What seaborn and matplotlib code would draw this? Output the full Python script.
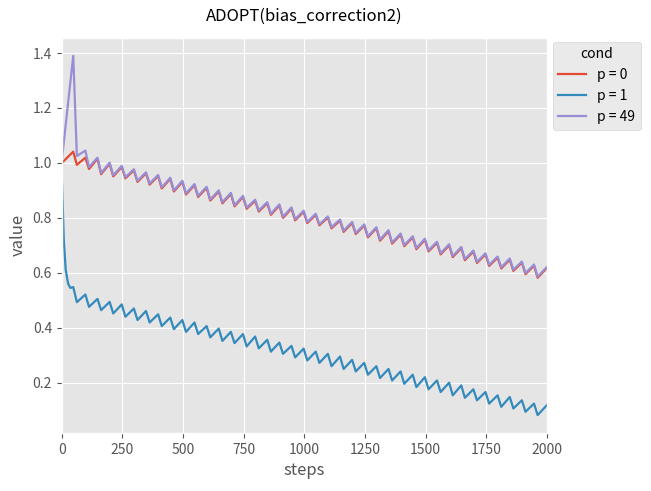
import matplotlib
matplotlib.use("Agg")
import matplotlib.pyplot as plt
import seaborn as sns
import pandas as pd

plt.style.use("ggplot")
plt.rcParams['font.family'] = ['Noto Sans CJK JP', 'DejaVu Sans']

title = "ADOPT(bias_correction2)"
labels = ["p = 0", "p = 1", "p = 49"]

steps_upper = [0, 47, 62, 97, 112,
               147, 162, 197, 212, 247, 262, 297, 312, 347, 362, 397, 412,
               447, 462, 497, 512, 547, 562, 597, 612, 647, 662, 697, 712,
               747, 762, 797, 812, 847, 862, 897, 912, 947, 962, 997, 1012,
               1047, 1062, 1097, 1112, 1147, 1162, 1197, 1212, 1247, 1262,
               1297, 1312, 1347, 1362, 1397, 1412, 1447, 1462, 1497, 1512,
               1547, 1562, 1597, 1612, 1647, 1662, 1697, 1712, 1747, 1762,
               1797, 1812, 1847, 1862, 1897, 1912, 1947, 1962, 2000]

p49_values = [1.01, 1.39, 1.025, 1.045, 0.985,
              1.019, 0.963, 1.001, 0.955, 0.989, 0.948, 0.977, 0.935, 0.966, 0.925, 0.956, 0.911,
              0.946, 0.900, 0.935, 0.889, 0.923, 0.880, 0.913, 0.867, 0.900, 0.857, 0.891, 0.846,
              0.880, 0.837, 0.866, 0.827, 0.857, 0.815, 0.849, 0.804, 0.838, 0.795, 0.826, 0.785,
              0.815, 0.777, 0.805, 0.766, 0.794, 0.753, 0.785, 0.745, 0.776, 0.733,
              0.766, 0.721, 0.755, 0.710, 0.743, 0.701, 0.733, 0.690, 0.724, 0.682,
              0.713, 0.671, 0.704, 0.661, 0.694, 0.650, 0.681, 0.640, 0.671, 0.629,
              0.659, 0.620, 0.652, 0.611, 0.641, 0.599, 0.630, 0.586, 0.621]

p0_values = [1.0, 1.041, 0.993, 1.019, 0.978,
             1.015, 0.959, 0.997, 0.951, 0.985, 0.944, 0.973, 0.931, 0.962, 0.921, 0.952, 0.907,
             0.942, 0.896, 0.931, 0.885, 0.919, 0.876, 0.909, 0.863, 0.896, 0.853, 0.887, 0.842,
             0.876, 0.833, 0.862, 0.823, 0.853, 0.811, 0.845, 0.800, 0.834, 0.791, 0.822, 0.781,
             0.811, 0.773, 0.801, 0.762, 0.790, 0.749, 0.781, 0.741, 0.772, 0.729,
             0.762, 0.717, 0.751, 0.706, 0.739, 0.697, 0.729, 0.686, 0.720, 0.678,
             0.709, 0.667, 0.700, 0.657, 0.690, 0.646, 0.677, 0.636, 0.667, 0.625,
             0.655, 0.616, 0.648, 0.607, 0.637, 0.595, 0.626, 0.582, 0.617]

steps_p1 = [0, 8, 16, 26, 35, 47, 62,
            97, 112, 147, 162, 197, 212, 247, 262, 297, 312, 347, 362, 397, 412,
            447, 462, 497, 512, 547, 562, 597, 612, 647, 662, 697, 712,
            747, 762, 797, 812, 847, 862, 897, 912, 947, 962, 997, 1012,
            1047, 1062, 1097, 1112, 1147, 1162, 1197, 1212, 1247, 1262,
            1297, 1312, 1347, 1362, 1397, 1412, 1447, 1462, 1497, 1512,
            1547, 1562, 1597, 1612, 1647, 1662, 1697, 1712, 1747, 1762,
            1797, 1812, 1847, 1862, 1897, 1912, 1947, 1962, 2000]

p1_values = [0.95, 0.72, 0.61, 0.56, 0.545, 0.548, 0.493,
             0.521, 0.476, 0.505, 0.464, 0.494, 0.452, 0.485, 0.440, 0.470, 0.428, 0.461, 0.419, 0.449, 0.406,
             0.437, 0.395, 0.428, 0.385, 0.419, 0.377, 0.406, 0.365, 0.397, 0.352, 0.385, 0.344,
             0.377, 0.332, 0.368, 0.325, 0.356, 0.313, 0.346, 0.305, 0.334, 0.292, 0.324, 0.281,
             0.313, 0.272, 0.305, 0.260, 0.295, 0.250, 0.283, 0.241, 0.272, 0.229,
             0.260, 0.217, 0.250, 0.208, 0.241, 0.196, 0.229, 0.184, 0.220, 0.176,
             0.208, 0.166, 0.200, 0.154, 0.190, 0.145, 0.176, 0.136, 0.166, 0.124,
             0.154, 0.112, 0.148, 0.106, 0.136, 0.094, 0.124, 0.082, 0.118]

df = pd.concat([
    pd.DataFrame({"steps": steps_upper, "value": p0_values, "cond": labels[0]}),
    pd.DataFrame({"steps": steps_p1, "value": p1_values, "cond": labels[1]}),
    pd.DataFrame({"steps": steps_upper, "value": p49_values, "cond": labels[2]}),
], ignore_index=True)

colors = ["#E24A33", "#348ABD", "#988ED5"]

fig, ax = plt.subplots(figsize=(6.51, 4.91), dpi=100)
fig.subplots_adjust(left=0.095, right=0.840, top=0.923, bottom=0.118)
sns.lineplot(data=df, x="steps", y="value", hue="cond", palette=colors,
             linewidth=1.6, ax=ax, sort=False, estimator=None)
ax.set_xlim(0, 2000)
ax.set_title(title, fontsize=12, color="black", pad=12)
ax.set_xlabel("steps", fontsize=12)
ax.set_ylabel("value", fontsize=12)
ax.tick_params(labelsize=10)
leg = ax.legend(title="cond", loc="upper left", bbox_to_anchor=(0.998, 1.008),
                fontsize=10, title_fontsize=10)
fig.savefig("out.png", dpi=100)
